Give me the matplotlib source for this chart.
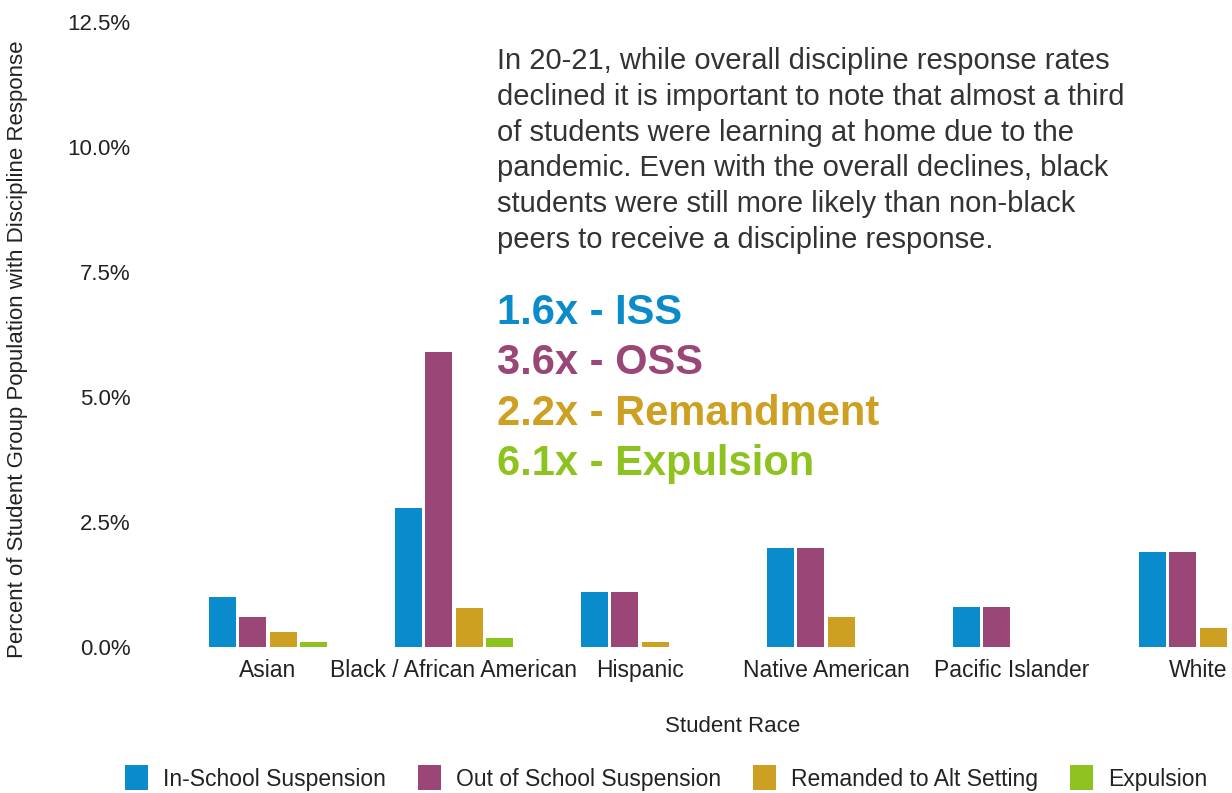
import matplotlib
matplotlib.use("Agg")
import matplotlib.pyplot as plt
import numpy as np

plt.rcParams['font.family'] = ['Liberation Sans', 'DejaVu Sans']

categories = ["Asian", "Black / African American", "Hispanic", "Native American",
              "Pacific Islander", "White"]
series_names = ["In-School Suspension", "Out of School Suspension",
                "Remanded to Alt Setting", "Expulsion"]
iss = [1.0, 2.78, 1.1, 1.98, 0.8, 1.9]
oss = [0.61, 5.9, 1.1, 1.98, 0.8, 1.9]
remand = [0.3, 0.79, 0.11, 0.6, 0.0, 0.39]
expulsion = [0.11, 0.19, 0.0, 0.0, 0.0, 0.0]
colors = ["#0A8BCB", "#9A4676", "#CDA022", "#8DC21F"]
yticks = [0, 2.5, 5.0, 7.5, 10.0, 12.5]

note = ("In 20-21, while overall discipline response rates\n"
        "declined it is important to note that almost a third\n"
        "of students were learning at home due to the\n"
        "pandemic. Even with the overall declines, black\n"
        "students were still more likely than non-black\n"
        "peers to receive a discipline response.")
ratios = ["1.6x - ISS", "3.6x - OSS", "2.2x - Remandment", "6.1x - Expulsion"]

W, H = 1232, 793
fig = plt.figure(figsize=(W / 100, H / 100), dpi=100)
ax = fig.add_axes([175 / W, 146 / H, 1 - 175 / W, 625 / H])

x = np.arange(len(categories))
step = 0.164
bw = 0.145
for i, (vals, name) in enumerate(zip([iss, oss, remand, expulsion], series_names)):
    ax.bar(x + (i - 1.5) * step, vals, width=bw, color=colors[i], label=name)

ax.set_xlim(-0.5, (W - 175) / 186 - 0.5)
ax.set_ylim(0, 12.5)
ax.set_yticks(yticks)
ax.set_yticklabels([f"{v:.1f}%" for v in yticks], fontsize=16, color="#222222")
ax.set_xticks(x)
ax.set_xticklabels(categories, fontsize=16.5, color="#222222")
for lbl in ax.get_xticklabels():
    lbl.set_va("baseline")
ax.tick_params(axis="y", length=0, pad=32)
ax.tick_params(axis="x", length=0, pad=21.5)
for s in ax.spines.values():
    s.set_visible(False)
fig.text(733 / W, 1 - 727 / H, "Student Race", fontsize=16, color="#222222",
         ha="center", va="center")
fig.text(18 / W, 1 - 349 / H, "Percent of Student Group Population with Discipline Response",
         rotation=90, fontsize=16, color="#222222", ha="center", va="center")

fig.text(497 / W, 1 - 47 / H, note, fontsize=21, color="#333333", ha="left", va="top",
         linespacing=1.355)
for i, (t, c) in enumerate(zip(ratios, colors)):
    fig.text(497 / W, 1 - (313 + 50.5 * i) / H, t, fontsize=30, fontweight="bold",
             color=c, ha="left", va="center")

fig.legend(loc="center", bbox_to_anchor=(666 / W, 15 / H), ncol=4, frameon=False,
           fontsize=16.5, handlelength=1.0, handleheight=1.3, columnspacing=1.4,
           handletextpad=0.65, labelcolor="#222222")

fig.savefig("out.png", dpi=100)
